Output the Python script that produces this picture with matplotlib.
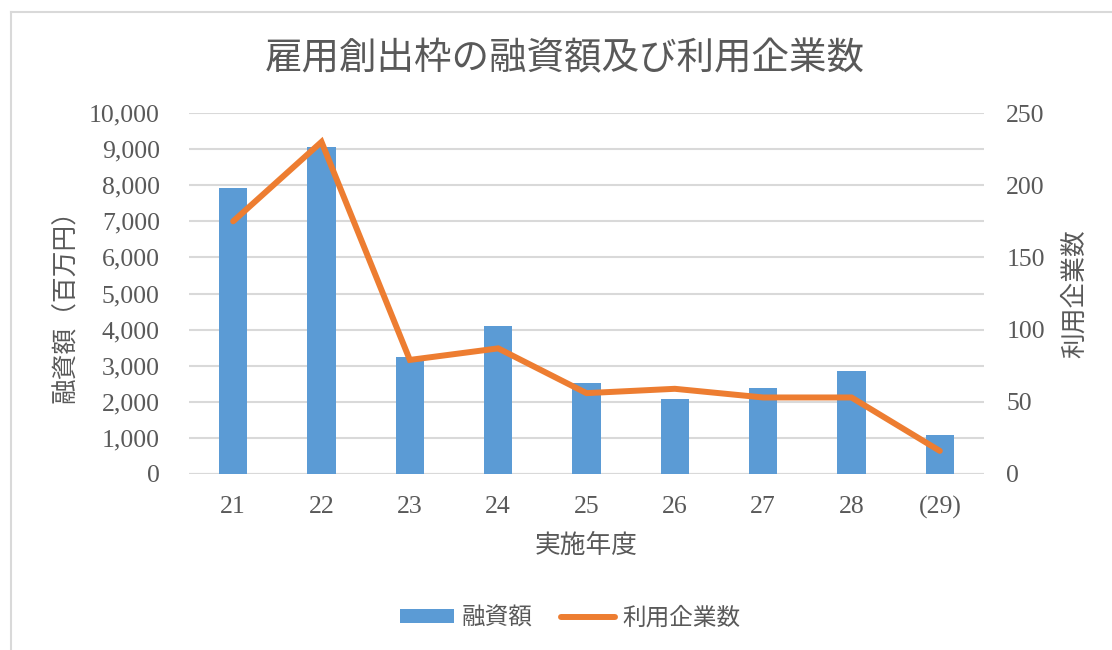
import matplotlib
matplotlib.use("Agg")
import matplotlib.pyplot as plt
from matplotlib.lines import Line2D
from matplotlib.patches import Patch
import numpy as np

plt.rcParams['font.family'] = ['Noto Sans CJK JP', 'DejaVu Sans']

# ---- data ----
categories = ["21", "22", "23", "24", "25", "26", "27", "28", "(29)"]
loan_amount = [7920, 9060, 3240, 4100, 2510, 2080, 2370, 2840, 1070]   # 融資額（百万円）
companies = [175, 230, 79, 87, 56, 59, 53, 53, 16]                    # 利用企業数
left_ticks = [0, 1000, 2000, 3000, 4000, 5000, 6000, 7000, 8000, 9000, 10000]
right_ticks = [0, 50, 100, 150, 200, 250]

title = "雇用創出枠の融資額及び利用企業数"
ylabel_left = "融資額（百万円）"
ylabel_right = "利用企業数"
xlabel = "実施年度"
legend_bar = "融資額"
legend_line = "利用企業数"

BAR_C = "#5B9BD5"
LINE_C = "#ED7D31"
GRID_C = "#D9D9D9"
TXT_C = "#595959"
SERIF = ["Liberation Serif", "DejaVu Serif"]

W, H = 1112, 650
fig = plt.figure(figsize=(W / 100, H / 100), dpi=100)

def fx(px):
    return px / W

def fy(py):
    return 1 - py / H

ax = fig.add_axes([fx(189), fy(474), fx(984) - fx(189), fy(113) - fy(474)])
x = np.arange(len(categories))
ax.bar(x, loan_amount, width=0.32, color=BAR_C, zorder=2)
ax.set_xlim(-0.5, len(categories) - 0.5)
ax.set_ylim(0, 10000)
ax.set_yticks(left_ticks)
ax.set_yticklabels([f"{v:,}" for v in left_ticks], fontfamily=SERIF)
ax.set_xticks(x)
ax.set_xticklabels(categories, fontfamily=SERIF)
ax.grid(axis='y', color=GRID_C, linewidth=1.5, zorder=0)
ax.set_axisbelow(True)
for s in ax.spines.values():
    s.set_visible(False)
ax.tick_params(axis='y', length=0, pad=21, labelsize=18.5, labelcolor=TXT_C)
ax.tick_params(axis='x', length=0, pad=16, labelsize=18.5, labelcolor=TXT_C)
ax.axhline(0, color=GRID_C, linewidth=1.5, zorder=1)

ax2 = ax.twinx()
ax2.plot(x, companies, color=LINE_C, linewidth=4.3, solid_capstyle='round', solid_joinstyle='miter', zorder=3)
ax2.set_ylim(0, 250)
ax2.set_yticks(right_ticks)
ax2.set_yticklabels([str(v) for v in right_ticks], fontfamily=SERIF)
ax2.tick_params(axis='y', length=0, pad=16, labelsize=18.5, labelcolor=TXT_C)
for s in ax2.spines.values():
    s.set_visible(False)

fig.text(fx(565), fy(59), title, ha='center', va='center', fontsize=27, color=TXT_C)
fig.text(fx(586), fy(546), xlabel, ha='center', va='center', fontsize=18.5, color=TXT_C)
fig.text(fx(66), fy(300), ylabel_left, ha='center', va='center', rotation=90, fontsize=18.5, color=TXT_C)
fig.text(fx(1075), fy(294), ylabel_right, ha='center', va='center', rotation=90, fontsize=18.5, color=TXT_C)

handles = [Patch(facecolor=BAR_C, edgecolor='none'),
           Line2D([0], [0], color=LINE_C, linewidth=4.3, solid_capstyle='round')]
leg = fig.legend(handles, [legend_bar, legend_line], loc='center', bbox_to_anchor=(fx(570), fy(618)),
                 ncol=2, frameon=False, fontsize=17, handlelength=2.3, handleheight=0.55,
                 columnspacing=1.2, handletextpad=0.3)
for t in leg.get_texts():
    t.set_color(TXT_C)

# chart-area border (cropped at right and bottom)
fig.add_artist(Line2D([fx(10.5), fx(10.5)], [fy(11.5), 0], color=GRID_C, linewidth=1.5))
fig.add_artist(Line2D([fx(10.5), 1], [fy(11.5), fy(11.5)], color=GRID_C, linewidth=1.5))

fig.savefig("out.png", dpi=100, facecolor='white')
